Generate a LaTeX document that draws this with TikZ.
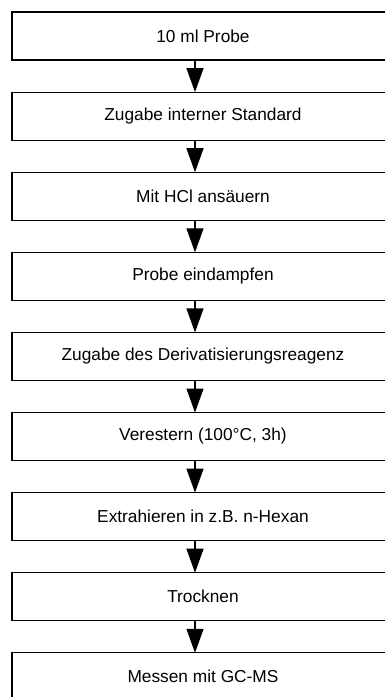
\documentclass[tikz,border=0pt]{standalone}
\usepackage{fontspec}
\setmainfont{Liberation Sans}
\usetikzlibrary{positioning,arrows.meta}
\tikzstyle{box} = [draw, line width=1.2pt, minimum width=382pt, minimum height=48pt, inner sep=0pt, outer sep=0pt, font=\fontsize{17.3}{20}\selectfont]
\tikzstyle{pfeil} = [line width=1.3pt, -{Triangle[length=24pt,width=17pt]}]

\begin{document}
\begin{tikzpicture}[x=1pt,y=1pt,node distance=32.1pt]
\useasboundingbox (0,0) rectangle (385,-697);
\clip (0,0) rectangle (385,-697);
\node[box] (probe) at (203,-36) {10 ml Probe};
\node[box, below=of probe] (standard) {Zugabe interner Standard};
\node[box, below=of standard] (hcl) {Mit HCl ansäuern};
\node[box, below=of hcl] (eindampfen) {Probe eindampfen};
\node[box, below=of eindampfen] (reagenz) {Zugabe des Derivatisierungsreagenz};
\node[box, below=of reagenz] (verestern) {Verestern (100°C, 3h)};
\node[box, below=of verestern] (extrahieren) {Extrahieren in z.B. n-Hexan};
\node[box, below=of extrahieren] (trocknen) {Trocknen};
\node[box, below=of trocknen] (messen) {Messen mit GC-MS};
% pfeile
\foreach \a/\b in {probe/standard, standard/hcl, hcl/eindampfen, eindampfen/reagenz,
  reagenz/verestern, verestern/extrahieren, extrahieren/trocknen, trocknen/messen}
  \draw[pfeil] ([xshift=-8pt]\a.south) -- ([xshift=-8pt]\b.north);
\end{tikzpicture}
\end{document}
